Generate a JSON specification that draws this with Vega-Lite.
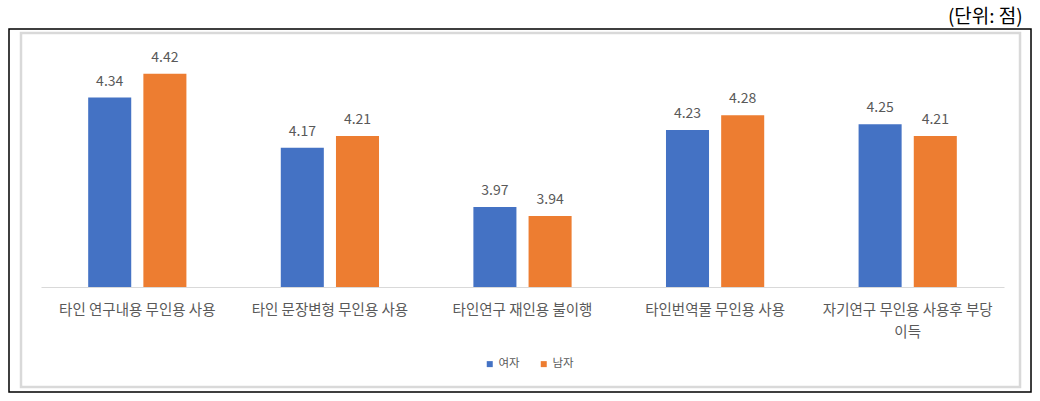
{
  "$schema": "https://vega.github.io/schema/vega-lite/v6.json",
  "width": 963,
  "height": 233,
  "autosize": {"type": "none"},
  "padding": {"left": 41, "top": 54, "right": 36, "bottom": 114},
  "background": "white",
  "config": {"view": {"stroke": null}, "font": "Noto Sans CJK KR"},
  "title": {"text": "(단위: 점)", "anchor": "end", "fontSize": 19, "fontWeight": "normal", "color": "#000000", "dx": -9, "offset": 1},
  "resolve": {"scale": {"x": "independent", "y": "independent", "color": "independent"}},
  "layer": [
    {
      "data": {"values": [{}]},
      "encoding": {},
      "layer": [
        {
          "mark": {"type": "rect", "fill": null, "stroke": "#000000", "strokeWidth": 1.5},
          "encoding": {
            "x": {"datum": 0.00865, "type": "quantitative", "scale": {"domain": [0.03942, 0.96538], "nice": false, "zero": false}, "axis": null},
            "x2": {"datum": 0.99135},
            "y": {"datum": 0.9277, "type": "quantitative", "scale": {"domain": [0.2843, 0.8653], "nice": false, "zero": false}, "axis": null},
            "y2": {"datum": 0.0224}
          }
        },
        {
          "mark": {"type": "rect", "fill": null, "stroke": "#d9d9d9", "strokeWidth": 2.5},
          "encoding": {
            "x": {"datum": 0.02019, "type": "quantitative"},
            "x2": {"datum": 0.98077},
            "y": {"datum": 0.9177, "type": "quantitative"},
            "y2": {"datum": 0.0349}
          }
        }
      ]
    },
    {
      "data": {"values": [
        {"항목": "타인 연구내용 무인용 사용", "성별": "여자", "점수": 4.34},
        {"항목": "타인 연구내용 무인용 사용", "성별": "남자", "점수": 4.42},
        {"항목": "타인 문장변형 무인용 사용", "성별": "여자", "점수": 4.17},
        {"항목": "타인 문장변형 무인용 사용", "성별": "남자", "점수": 4.21},
        {"항목": "타인연구 재인용 불이행", "성별": "여자", "점수": 3.97},
        {"항목": "타인연구 재인용 불이행", "성별": "남자", "점수": 3.94},
        {"항목": "타인번역물 무인용 사용", "성별": "여자", "점수": 4.23},
        {"항목": "타인번역물 무인용 사용", "성별": "남자", "점수": 4.28},
        {"항목": "자기연구 무인용 사용후 부당이득", "성별": "여자", "점수": 4.25},
        {"항목": "자기연구 무인용 사용후 부당이득", "성별": "남자", "점수": 4.21}
      ]},
      "encoding": {
        "x": {
          "field": "항목", "type": "nominal", "sort": null,
          "scale": {"paddingInner": 0.49, "paddingOuter": 0.245},
          "axis": {
            "orient": "bottom",
            "title": null, "labelAngle": 0, "ticks": false, "tickSize": 0,
            "domainColor": "#d9d9d9", "domainWidth": 1,
            "labelColor": "#595959", "labelFontSize": 14.5, "labelPadding": 16,
            "labelLineHeight": 22,
            "labelExpr": "datum.value == '자기연구 무인용 사용후 부당이득' ? ['자기연구 무인용 사용후 부당', '이득'] : datum.value"
          }
        },
        "xOffset": {"field": "성별", "type": "nominal", "sort": ["여자", "남자"], "scale": {"paddingInner": 0.22}},
        "y": {"field": "점수", "type": "quantitative", "scale": {"domain": [3.7, 4.487], "zero": false, "nice": false}, "axis": null}
      },
      "layer": [
        {
          "mark": {"type": "bar"},
          "encoding": {
            "y2": {"datum": 3.7},
            "color": {
              "field": "성별", "type": "nominal",
              "scale": {"domain": ["여자", "남자"], "range": ["#4472C4", "#ED7D31"]},
              "legend": {
                "title": null, "orient": "none", "direction": "horizontal",
                "legendX": 443, "legendY": 304, "padding": 0,
                "symbolType": "square", "symbolSize": 36, "symbolStrokeWidth": 0,
                "labelColor": "#595959", "labelFontSize": 11.5, "labelOffset": 3, "columnPadding": 18
              }
            }
          }
        },
        {
          "mark": {"type": "text", "baseline": "alphabetic", "dy": -12, "fontSize": 14, "color": "#595959"},
          "encoding": {"text": {"field": "점수", "type": "quantitative", "format": ".2f"}}
        }
      ]
    }
  ]
}
